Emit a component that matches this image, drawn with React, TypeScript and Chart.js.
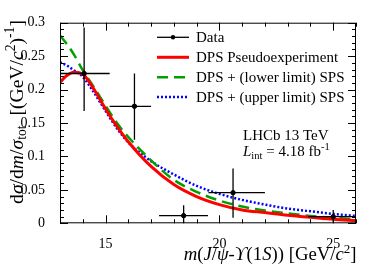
import React, { useEffect, useRef } from "react";
import { Chart, registerables } from "chart.js";
Chart.register(...registerables);

// ---- data ----
const dataX = [14.06, 16.27, 18.43, 20.6, 25.0];
const dataY = [0.224, 0.175, 0.0114, 0.0458, 0.0099];
const dataXLo = [12.9, 15.18, 17.35, 19.52, 23.9];
const dataXHi = [15.18, 17.0, 19.5, 22.0, 26.1];
const dataYLo = [0.168, 0.125, -0.005, 0.0084, 0.0];
const dataYHi = [0.293, 0.224, 0.027, 0.082, 0.02];

const curveX = [13, 13.3, 13.6, 14, 14.5, 15, 15.5, 16, 17, 18, 19, 20, 21, 22, 23, 24, 25, 26];
const redY = [0.211, 0.221, 0.226, 0.223, 0.2, 0.171, 0.145, 0.122, 0.085, 0.058, 0.04, 0.028, 0.02, 0.016, 0.012, 0.009, 0.006, 0.004];
const greenY = [0.281, 0.268, 0.253, 0.229, 0.203, 0.176, 0.15, 0.129, 0.094, 0.065, 0.047, 0.034, 0.025, 0.019, 0.015, 0.011, 0.008, 0.006];
const blueY = [0.241, 0.236, 0.229, 0.219, 0.195, 0.168, 0.142, 0.121, 0.093, 0.073, 0.056, 0.044, 0.035, 0.028, 0.022, 0.018, 0.014, 0.011];

const seriesLabels = ["Data", "DPS Pseudoexperiment", "DPS + (lower limit) SPS", "DPS + (upper limit) SPS"];
const xTickValues = [15, 20, 25];
const xTickLabels = ["15", "20", "25"];
const yTickValues = [0, 0.05, 0.1, 0.15, 0.2, 0.25, 0.3];
const yTickLabels = ["0", "0.05", "0.1", "0.15", "0.2", "0.25", "0.3"];

const FAMILY = "'Liberation Serif', 'DejaVu Serif', serif";

type Seg = { t: string; italic?: boolean; scale?: number; dy?: number };

function richWidth(ctx: CanvasRenderingContext2D, segs: Seg[], size: number) {
  let w = 0;
  for (const s of segs) {
    ctx.font = `${s.italic ? "italic " : ""}${size * (s.scale ?? 1)}px ${FAMILY}`;
    w += ctx.measureText(s.t).width;
  }
  return w;
}
function drawRich(ctx: CanvasRenderingContext2D, segs: Seg[], x: number, y: number, size: number) {
  let cx = x;
  ctx.textAlign = "left";
  ctx.textBaseline = "alphabetic";
  for (const s of segs) {
    ctx.font = `${s.italic ? "italic " : ""}${size * (s.scale ?? 1)}px ${FAMILY}`;
    ctx.fillText(s.t, cx, y + (s.dy ?? 0) * size);
    cx += ctx.measureText(s.t).width;
  }
}

const xTitle: Seg[] = [
  { t: "m", italic: true }, { t: "(" }, { t: "J", italic: true }, { t: "/" }, { t: "ψ", italic: true },
  { t: "-" }, { t: "ϒ", italic: true }, { t: "(1" }, { t: "S", italic: true }, { t: ")) [GeV/" },
  { t: "c", italic: true }, { t: "2", scale: 0.7, dy: -0.38 }, { t: "]" },
];
const yTitle: Seg[] = [
  { t: "d" }, { t: "σ", italic: true }, { t: "/d" }, { t: "m", italic: true }, { t: "/" },
  { t: "σ", italic: true }, { t: "tot", scale: 0.7, dy: 0.2 }, { t: "  [(GeV/" }, { t: "c", italic: true },
  { t: "2", scale: 0.7, dy: -0.38 }, { t: ")" }, { t: "-1", scale: 0.7, dy: -0.42 }, { t: "]" },
];
const lhcbLine: Seg[] = [{ t: "LHCb 13 TeV" }];
const lumiLine: Seg[] = [
  { t: "L", italic: true }, { t: "int", scale: 0.7, dy: 0.22 }, { t: " = 4.18 fb" }, { t: "-1", scale: 0.7, dy: -0.38 },
];

const decor = {
  id: "decor",
  afterDatasetsDraw(chart: any) {
    const ctx: CanvasRenderingContext2D = chart.ctx;
    const a = chart.chartArea;
    const xs = chart.scales.x;
    const ys = chart.scales.y;
    ctx.save();
    ctx.beginPath();
    ctx.rect(a.left, a.top, a.right - a.left, a.bottom - a.top);
    ctx.clip();
    ctx.strokeStyle = "#000";
    ctx.lineWidth = 1.3;
    for (let i = 0; i < dataX.length; i++) {
      const px = xs.getPixelForValue(dataX[i]);
      const py = ys.getPixelForValue(dataY[i]);
      ctx.beginPath();
      ctx.moveTo(xs.getPixelForValue(dataXLo[i]), py);
      ctx.lineTo(xs.getPixelForValue(dataXHi[i]), py);
      ctx.moveTo(px, ys.getPixelForValue(dataYLo[i]));
      ctx.lineTo(px, ys.getPixelForValue(dataYHi[i]));
      ctx.stroke();
    }
    ctx.restore();
  },
  afterDraw(chart: any) {
    const ctx: CanvasRenderingContext2D = chart.ctx;
    const a = chart.chartArea;
    const xs = chart.scales.x;
    const ys = chart.scales.y;
    ctx.save();
    ctx.strokeStyle = "#000";
    ctx.lineWidth = 1;
    ctx.strokeRect(a.left + 0.5, a.top + 0.5, a.right - a.left - 1, a.bottom - a.top - 1);
    ctx.beginPath();
    for (let v = 13; v <= 26.001; v += 1) {
      const p = Math.round(xs.getPixelForValue(v)) + 0.5;
      const len = xTickValues.includes(Math.round(v)) ? 8 : 4;
      ctx.moveTo(p, a.bottom); ctx.lineTo(p, a.bottom - len);
      ctx.moveTo(p, a.top); ctx.lineTo(p, a.top + len);
    }
    for (let k = 0; k <= 30; k++) {
      const v = k * 0.01;
      const p = Math.round(ys.getPixelForValue(v)) + 0.5;
      const len = k % 5 === 0 ? 8 : 4;
      ctx.moveTo(a.left, p); ctx.lineTo(a.left + len, p);
      ctx.moveTo(a.right, p); ctx.lineTo(a.right - len, p);
    }
    ctx.stroke();

    ctx.fillStyle = "#000";
    // x title: right aligned to axis end, fitted to the reference span
    const xsz = 18.5 * 173 / richWidth(ctx, xTitle, 18.5);
    const xw = richWidth(ctx, xTitle, xsz);
    drawRich(ctx, xTitle, 356.5 - xw, 260, xsz);
    // y title: rotated, right aligned to top
    const ysz = 18.5 * 184 / richWidth(ctx, yTitle, 18.5);
    const yw = richWidth(ctx, yTitle, ysz);
    ctx.save();
    ctx.translate(22.5, 20 + yw);
    ctx.rotate(-Math.PI / 2);
    drawRich(ctx, yTitle, 0, 0, ysz);
    ctx.restore();
    // LHCb labels
    drawRich(ctx, lhcbLine, 243, 140, 15);
    drawRich(ctx, lumiLine, 243, 156, 15);

    // legend
    const ds = chart.data.datasets;
    const rowY = [37.3, 57.3, 77.3, 97];
    for (let i = 0; i < ds.length; i++) {
      const d = ds[i];
      const y = rowY[i];
      ctx.save();
      ctx.beginPath();
      if (i === 0) {
        ctx.strokeStyle = "#000";
        ctx.lineWidth = 1.3;
        ctx.moveTo(157, y); ctx.lineTo(189, y);
        ctx.stroke();
        ctx.beginPath();
        ctx.fillStyle = "#000";
        ctx.arc(173, y, 2.2, 0, Math.PI * 2);
        ctx.fill();
      } else {
        ctx.strokeStyle = d.borderColor;
        ctx.lineWidth = d.borderWidth;
        ctx.setLineDash(d.borderDash || []);
        ctx.moveTo(157, y); ctx.lineTo(189, y);
        ctx.stroke();
      }
      ctx.restore();
      ctx.fillStyle = "#000";
      ctx.font = `15px ${FAMILY}`;
      ctx.textAlign = "left";
      ctx.textBaseline = "middle";
      ctx.fillText(d.label, 196, y + 1);
    }
    ctx.restore();
  },
};

export default function App() {
  const ref = useRef<HTMLCanvasElement>(null);
  useEffect(() => {
    if (!ref.current) return;
    const pts = (ys: number[]) => curveX.map((x, i) => ({ x, y: ys[i] }));
    const chart = new Chart(ref.current, {
      type: "line",
      data: {
        datasets: [
          {
            label: seriesLabels[0],
            data: dataX.map((x, i) => ({ x, y: dataY[i] })),
            showLine: false,
            pointRadius: 2.2,
            pointBackgroundColor: "#000",
            pointBorderColor: "#000",
            borderColor: "#000",
          },
          {
            label: seriesLabels[1],
            data: pts(redY),
            borderColor: "#ff0000",
            borderWidth: 3,
            pointRadius: 0,
            cubicInterpolationMode: "monotone",
          },
          {
            label: seriesLabels[2],
            data: pts(greenY),
            borderColor: "#00a000",
            borderWidth: 2.5,
            borderDash: [11, 6],
            pointRadius: 0,
            cubicInterpolationMode: "monotone",
          },
          {
            label: seriesLabels[3],
            data: pts(blueY),
            borderColor: "#0000ff",
            borderWidth: 2.5,
            borderDash: [2, 2],
            pointRadius: 0,
            cubicInterpolationMode: "monotone",
          },
        ] as any,
      },
      options: {
        animation: false,
        responsive: false,
        devicePixelRatio: 1,
        layout: { padding: { left: 0, top: 22.7, right: 18, bottom: 0 } },
        plugins: { legend: { display: false }, tooltip: { enabled: false } },
        elements: { line: { fill: false } },
        scales: {
          x: {
            type: "linear",
            min: 13,
            max: 26,
            grid: { display: false },
            border: { display: false },
            afterBuildTicks: (s: any) => { s.ticks = xTickValues.map((v) => ({ value: v })); },
            afterFit: (s: any) => { s.height = 270 - 223.3; },
            ticks: {
              color: "#000",
              font: { family: FAMILY, size: 14 },
              padding: 5,
              maxRotation: 0,
              callback: (v: any) => xTickLabels[xTickValues.indexOf(Number(v))] ?? "",
            },
          },
          y: {
            type: "linear",
            min: 0,
            max: 0.3,
            grid: { display: false },
            border: { display: false },
            afterBuildTicks: (s: any) => { s.ticks = yTickValues.map((v) => ({ value: v })); },
            afterFit: (s: any) => { s.width = 60; },
            ticks: {
              color: "#000",
              font: { family: FAMILY, size: 14 },
              padding: 7,
              callback: (v: any, i: number) => yTickLabels[i] ?? "",
            },
          },
        },
      } as any,
      plugins: [decor],
    });
    return () => chart.destroy();
  }, []);
  return (
    <div style={{ position: "absolute", left: 0, top: 0, width: 374, height: 270, background: "#fff" }}>
      <canvas ref={ref} width={374} height={270} />
    </div>
  );
}
